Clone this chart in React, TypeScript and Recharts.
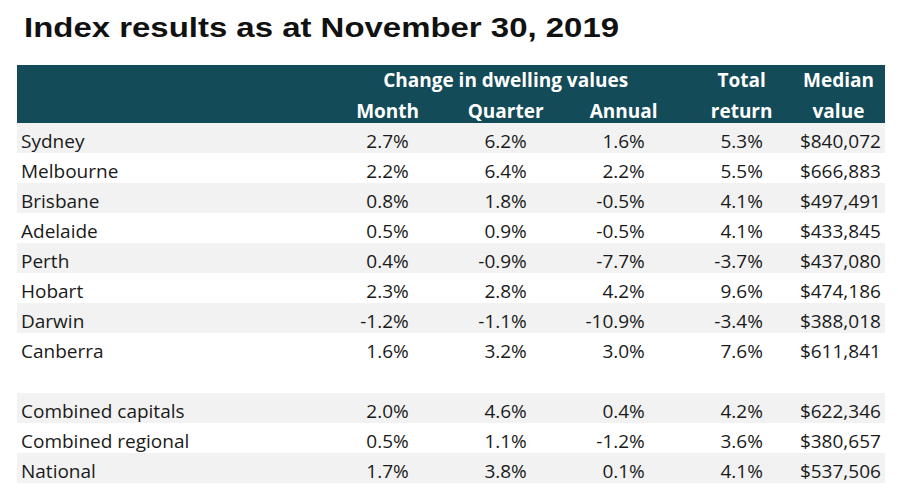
import React from "react";
import { ComposedChart, XAxis, YAxis, Scatter, ReferenceArea } from "recharts";

// rows of the table (the blank string is the spacer row before the combined indices)
const cities = [
  "Sydney",
  "Melbourne",
  "Brisbane",
  "Adelaide",
  "Perth",
  "Hobart",
  "Darwin",
  "Canberra",
  " ",
  "Combined capitals",
  "Combined regional",
  "National",
];

const month = [2.7, 2.2, 0.8, 0.5, 0.4, 2.3, -1.2, 1.6, null, 2.0, 0.5, 1.7];
const quarter = [6.2, 6.4, 1.8, 0.9, -0.9, 2.8, -1.1, 3.2, null, 4.6, 1.1, 3.8];
const annual = [1.6, 2.2, -0.5, -0.5, -7.7, 4.2, -10.9, 3.0, null, 0.4, -1.2, 0.1];
const totalReturn = [5.3, 5.5, 4.1, 4.1, -3.7, 9.6, -3.4, 7.6, null, 4.2, 3.6, 4.1];
const medianValue = [840072, 666883, 497491, 433845, 437080, 474186, 388018, 611841, null, 622346, 380657, 537506];

const headTop = ["", "Change in dwelling values", "", "Total", "Median"];
const headBottom = ["Month", "Quarter", "Annual", "return", "value"];

const shadedRows = ["Sydney", "Brisbane", "Perth", "Darwin", "Combined capitals", "National"];

// column axis: the name column sits at the left edge of the domain, value columns at 0..4
const colDomain = [-3.32, 4.035];

const FONT = "'Open Sans', sans-serif";

const pct = (v: number | null) => (v == null ? "" : `${v.toFixed(1)}%`);
const money = (v: number | null) => (v == null ? "" : "$" + v.toLocaleString("en-US"));

const columns = [
  month.map(pct),
  quarter.map(pct),
  annual.map(pct),
  totalReturn.map(pct),
  medianValue.map(money),
];

const rows = cities.map((city) => ({ city }));

const cells = cities.flatMap((city, r) =>
  columns.map((col, c) => ({ col: c, city, text: col[r] }))
);
const names = cities.map((city) => ({ col: colDomain[0], city, text: city }));

const CellText = (props: any) => {
  const { cx, cy, payload } = props;
  if (cx == null || cy == null) return null;
  return (
    <text x={cx} y={cy + 10} textAnchor="end" fontFamily={FONT} fontSize={19} fill="#1a1a1a">
      {payload.text}
    </text>
  );
};

const NameText = (props: any) => {
  const { cx, cy, payload } = props;
  if (cx == null || cy == null) return null;
  return (
    <text x={cx + 4} y={cy + 10} textAnchor="start" fontFamily={FONT} fontSize={19} fill="#1a1a1a">
      {payload.text}
    </text>
  );
};

const HeadTick = (props: any) => {
  const { x, y, payload } = props;
  const i = payload.value as number;
  // centre the heading over the column's values
  const cx = x - columns[i][0].length * 5.3;
  return (
    <g>
      {headTop[i] && (
        <text x={cx} y={y - 36} textAnchor="middle" fontFamily={FONT} fontWeight={700} fontSize={19} fill="#fff">
          {headTop[i]}
        </text>
      )}
      <text x={cx} y={y - 5} textAnchor="middle" fontFamily={FONT} fontWeight={700} fontSize={19} fill="#fff">
        {headBottom[i]}
      </text>
    </g>
  );
};

export default function App() {
  return (
    <div style={{ position: "absolute", left: 0, top: 0, width: 898, height: 496, background: "#fff" }}>
      <div
        style={{
          position: "absolute",
          left: 24,
          top: 14,
          fontFamily: "'Liberation Sans', Arial, sans-serif",
          fontWeight: 700,
          fontSize: 27,
          lineHeight: "28px",
          color: "#111",
          whiteSpace: "nowrap",
          transform: "scaleX(1.22)",
          transformOrigin: "0 0",
        }}
      >
        Index results as at November 30, 2019
      </div>
      <div style={{ position: "absolute", left: 17, top: 65, width: 868, height: 58, background: "#134b58" }} />
      <div style={{ position: "absolute", left: 0, top: 0 }}>
        <ComposedChart
          width={898}
          height={496}
          layout="vertical"
          data={rows}
          margin={{ top: 65, right: 13, bottom: 13, left: 17 }}
        >
          {shadedRows.map((c) => (
            <ReferenceArea key={c} y1={c} y2={c} fill="#f2f2f2" fillOpacity={1} stroke="none" />
          ))}
          <XAxis
            type="number"
            dataKey="col"
            orientation="top"
            domain={colDomain}
            ticks={[0, 1, 2, 3, 4]}
            interval={0}
            height={58}
            axisLine={false}
            tickLine={false}
            tickSize={0}
            tickMargin={0}
            tick={<HeadTick />}
          />
          <YAxis
            type="category"
            scale="band"
            dataKey="city"
            allowDuplicatedCategory={false}
            mirror
            axisLine={false}
            tickLine={false}
            tick={false}
          />
          <Scatter data={names} dataKey="col" shape={<NameText />} isAnimationActive={false} />
          <Scatter data={cells} dataKey="col" shape={<CellText />} isAnimationActive={false} />
        </ComposedChart>
      </div>
    </div>
  );
}
